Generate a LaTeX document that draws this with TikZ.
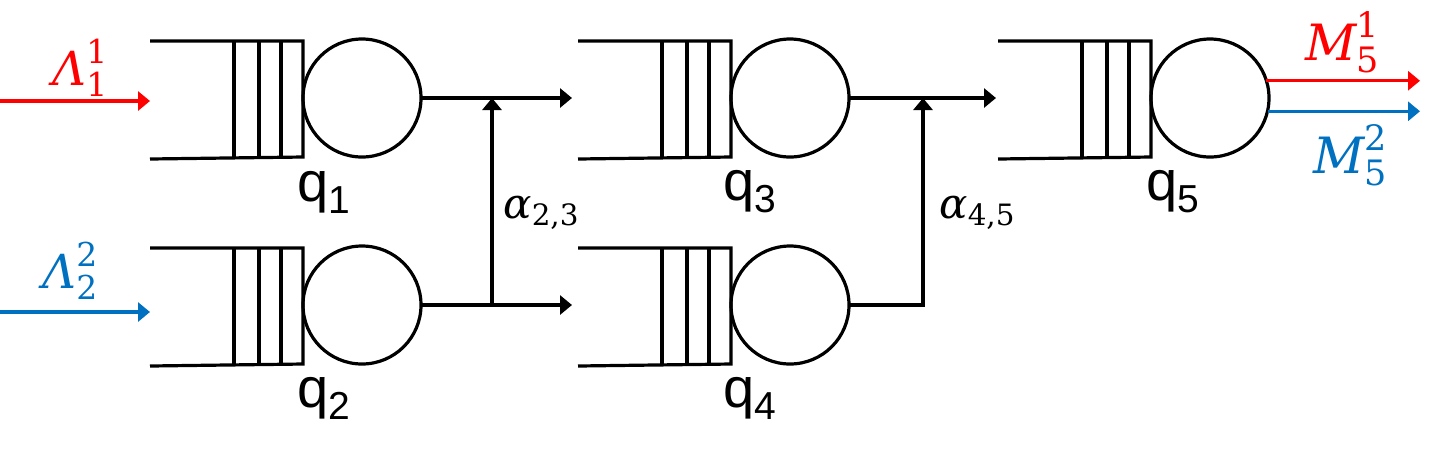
\RequirePackage{fix-cm}
\documentclass[tikz,border=0pt]{standalone}
\usepackage{amsmath}
\usepackage[no-math]{fontspec}
\newfontfamily\qfont{Liberation Sans}
\newfontfamily\lblfont{DejaVu Serif}
\usetikzlibrary{arrows.meta}
\definecolor{qred}{RGB}{255,0,0}
\definecolor{qblue}{RGB}{0,112,192}
\newcommand\qsub[1]{\raisebox{-6pt}{\fontsize{19.5}{20}\selectfont #1}}
\newcommand\lblsym[3]{$\text{\lblfont\itshape #1}_{\text{\lblfont #2}}^{\text{\lblfont #3}}$}
\newcommand\lblsub[2]{$\text{\lblfont\itshape #1}_{\text{\lblfont #2}}$}
\tikzset{
  qline/.style={line width=1.6pt, draw=black},
  server/.style={circle, draw=black, line width=1.6pt, minimum size=59pt, inner sep=0pt, outer sep=0pt},
  flow/.style={line width=1.6pt, -{Triangle[length=6pt,width=9.5pt]}},
  qlabel/.style={anchor=base west, inner sep=0pt, font=\qfont\fontsize{28}{30}\selectfont},
  mlabel/.style={anchor=base west, inner sep=0pt},
  pics/queue/.style={code={
     \node[server] (-srv) at (0,0) {};
     \draw[qline] (-212,-57) -- (-59,-57) -- (-59,59) -- (-212,61);
     \foreach \x in {-128,-103,-81} \draw[qline] (\x,-57) -- (\x,59);
     \coordinate (-in) at (-212,0);
  }}
}
\begin{document}
\begin{tikzpicture}[x=0.5pt,y=-0.5pt]
\useasboundingbox (0,0) rectangle (1433,452);
% queues
\pic (q1) at (362,98) {queue};
\pic (q2) at (362,305) {queue};
\pic (q3) at (790,98) {queue};
\pic (q4) at (790,305) {queue};
\pic (q5) at (1210,98) {queue};
% queue labels
\node[qlabel] (lq1) at (297,201) {q\qsub{1}};
\node[qlabel] (lq2) at (297,407) {q\qsub{2}};
\node[qlabel] (lq3) at (723,200) {q\qsub{3}};
\node[qlabel] (lq4) at (723,407) {q\qsub{4}};
\node[qlabel] (lq5) at (1146,200) {q\qsub{5}};
% sources and sinks
\coordinate (src1) at (0,101);
\coordinate (src2) at (0,312);
\coordinate (snk1) at (1420,80);
\coordinate (snk2) at (1420,111);
\coordinate (j1) at (492,305);
\coordinate (j2) at (923,98);
% inputs
\draw[flow, qred] (src1) -- (src1 -| q1-in);
\draw[flow, qblue] (src2) -- (src2 -| q2-in);
% internal flows
\draw[flow, shorten >=3pt] (q1-srv.east) -- (q3-in);
\draw[flow, shorten >=3pt] (q2-srv.east) -- (q4-in);
\draw[flow] (j1) -- (j1 |- q1-srv.east);
\draw[flow, shorten >=1pt] (q3-srv.east) -- (q5-in);
\draw[flow] (q4-srv.east) -| (j2);
% outputs
\draw[flow, qred] (q5-srv.17) -- (q5-srv.17 -| snk1);
\draw[flow, qblue] (q5-srv.-13) -- (q5-srv.-13 -| snk2);
% math labels
\node[mlabel, text=qred, font=\fontsize{23.5}{25}\selectfont] (l1) at (52,85) {\lblsym{Λ}{1}{1}};
\node[mlabel, text=qblue, font=\fontsize{23.5}{25}\selectfont] (l2) at (42,288) {\lblsym{Λ}{2}{2}};
\node[mlabel, font=\fontsize{21}{23}\selectfont] (a23) at (503,218) {\lblsub{α}{2,3}};
\node[mlabel, font=\fontsize{21}{23}\selectfont] (a45) at (939,218) {\lblsub{α}{4,5}};
\node[mlabel, text=qred, font=\fontsize{25}{27}\selectfont] (m1) at (1305,60) {\lblsym{M}{5}{1}};
\node[mlabel, text=qblue, font=\fontsize{25}{27}\selectfont] (m2) at (1313,173) {\lblsym{M}{5}{2}};
\end{tikzpicture}
\end{document}
